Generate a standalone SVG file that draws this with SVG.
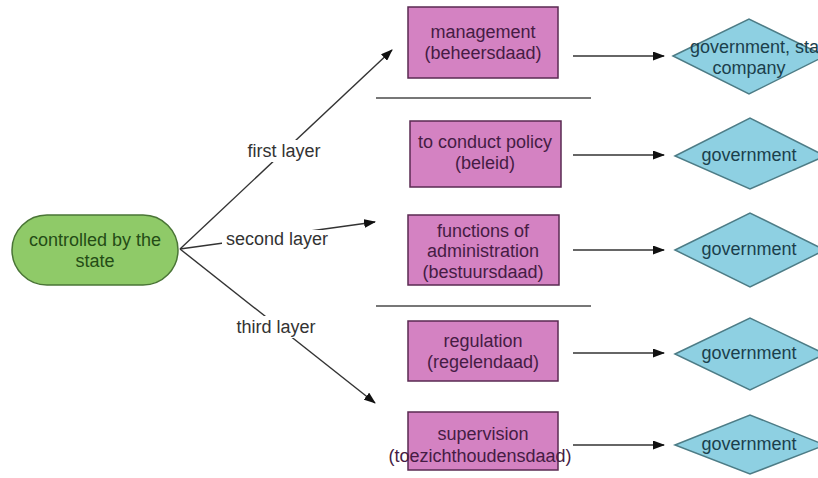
<svg xmlns="http://www.w3.org/2000/svg" width="818" height="478" viewBox="0 0 818 478">
<defs>
<marker id="ah" markerWidth="12" markerHeight="9" refX="11" refY="4.5" orient="auto" markerUnits="userSpaceOnUse">
<path d="M0,0 L12,4.5 L0,9 z" fill="#111"/>
</marker>
<style>
text{font-family:"Liberation Sans",Arial,sans-serif;font-size:18px;text-anchor:middle}
.box rect{fill:#d482c2;stroke:#5a2a52;stroke-width:1.5}
.box text{fill:#451c44}
.dia polygon{fill:#8ed0e2;stroke:#4d7c86;stroke-width:1.5}
.dia text{fill:#1b3f4c}
.conn line{stroke:#333;stroke-width:1.4}
.sep{stroke:#777;stroke-width:1.8}
.lbl{fill:#333}
</style>
</defs>
<rect width="818" height="478" fill="#fff"/>
<g id="connectors" class="conn">
<line x1="180" y1="249" x2="392" y2="50" marker-end="url(#ah)"/>
<line x1="180" y1="249" x2="375" y2="222" marker-end="url(#ah)"/>
<line x1="180" y1="249" x2="375" y2="403" marker-end="url(#ah)"/>
<line x1="573" y1="56" x2="664" y2="56" marker-end="url(#ah)"/>
<line x1="573" y1="155" x2="664" y2="155" marker-end="url(#ah)"/>
<line x1="573" y1="250" x2="664" y2="250" marker-end="url(#ah)"/>
<line x1="573" y1="353" x2="664" y2="353" marker-end="url(#ah)"/>
<line x1="573" y1="445" x2="664" y2="445" marker-end="url(#ah)"/>
</g>
<g id="labels">
<rect x="242" y="140" width="84" height="22" fill="#fff"/>
<text class="lbl" x="284" y="157">first layer</text>
<rect x="222" y="230" width="110" height="20" fill="#fff"/>
<text class="lbl" x="277" y="245">second layer</text>
<rect x="234" y="316" width="84" height="22" fill="#fff"/>
<text class="lbl" x="276" y="333">third layer</text>
</g>
<line class="sep" x1="376" y1="98" x2="591" y2="98"/>
<line class="sep" x1="376" y1="306" x2="591" y2="306"/>
<g id="start">
<rect x="12" y="215" width="166" height="70" rx="35" ry="35" fill="#8fca68" stroke="#4a7536" stroke-width="1.5"/>
<text x="95" y="246" fill="#244c16">controlled by the</text>
<text x="95" y="267" fill="#244c16">state</text>
</g>
<g id="management" class="box">
<rect x="408" y="7" width="150" height="71"/>
<text x="483" y="38">management</text>
<text x="483" y="59">(beheersdaad)</text>
</g>
<g id="policy" class="box">
<rect x="410" y="121" width="151" height="66"/>
<text x="485" y="148">to conduct policy</text>
<text x="485" y="169">(beleid)</text>
</g>
<g id="administration" class="box">
<rect x="408" y="215" width="151" height="70"/>
<text x="483" y="237">functions of</text>
<text x="483" y="257">administration</text>
<text x="483" y="278">(bestuursdaad)</text>
</g>
<g id="regulation" class="box">
<rect x="408" y="321" width="150" height="60"/>
<text x="483" y="347">regulation</text>
<text x="483" y="368">(regelendaad)</text>
</g>
<g id="supervision" class="box">
<rect x="408" y="412" width="150" height="58"/>
<text x="483" y="440">supervision</text>
<text x="480" y="462">(toezichthoudensdaad)</text>
</g>
<g id="d1" class="dia">
<polygon points="673,56 749,19 825,56 749,94"/>
<text x="762" y="53">government, state</text>
<text x="749" y="74">company</text>
</g>
<g id="d2" class="dia">
<polygon points="675,156 750,118 825,156 750,189"/>
<text x="749" y="161">government</text>
</g>
<g id="d3" class="dia">
<polygon points="675,250 750,213 825,250 750,287"/>
<text x="749" y="255">government</text>
</g>
<g id="d4" class="dia">
<polygon points="675,354 750,318 825,354 750,390"/>
<text x="749" y="359">government</text>
</g>
<g id="d5" class="dia">
<polygon points="675,445 750,415 825,445 750,474"/>
<text x="749" y="450">government</text>
</g>
</svg>
